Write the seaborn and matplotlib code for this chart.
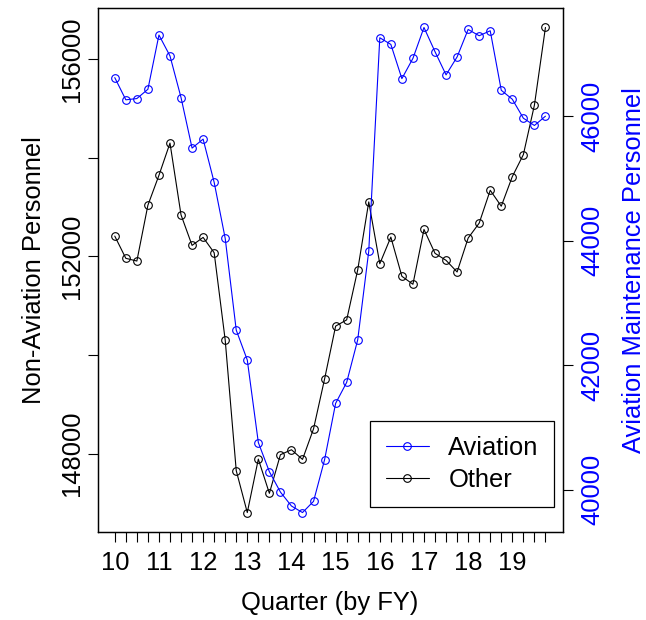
import matplotlib
matplotlib.use("Agg")
import matplotlib.pyplot as plt
import seaborn as sns
import pandas as pd
import numpy as np

# ---- data ----
fy_labels = ["10", "11", "12", "13", "14", "15", "16", "17", "18", "19"]
aviation = [46614, 46258, 46278, 46427, 47298, 46962, 46294, 45483, 45627, 44934,
            44034, 42562, 42082, 40758, 40290, 39963, 39739, 39634, 39814, 40482,
            41387, 41723, 42406, 43830, 47254, 47147, 46598, 46923, 47419, 47030,
            46658, 46946, 47387, 47286, 47366, 46411, 46267, 45963, 45846, 45995]
other = [152408, 151958, 151903, 153034, 153640, 154293, 152838, 152220, 152382, 152071,
         150301, 147655, 146806, 147889, 147196, 147978, 148079, 147883, 148503, 149513,
         150584, 150711, 151724, 153101, 151848, 152388, 151594, 151432, 152543, 152059,
         151917, 151681, 152368, 152671, 153337, 153014, 153614, 154059, 155061, 156636]
left_ticks = [148000, 150000, 152000, 154000, 156000]
left_labels = ["148000", "", "152000", "", "156000"]
right_ticks = [40000, 42000, 44000, 46000]

df = pd.DataFrame({"q": np.arange(len(other)), "Aviation": aviation, "Other": other})

sns.set_theme(style="white")
plt.rcParams["font.family"] = ["Liberation Sans", "DejaVu Sans"]
plt.rcParams.update({"text.color": "black", "axes.labelcolor": "black",
                     "xtick.color": "black", "ytick.color": "black"})
FS = 18.4

fig = plt.figure(figsize=(6.46, 6.20), dpi=100)
fig.subplots_adjust(left=0.151, right=0.871, top=0.987, bottom=0.142)
ax = fig.add_subplot(111)
ax2 = ax.twinx()

mk = dict(marker="o", markersize=5.5, markerfacecolor="none", markeredgewidth=0.8,
          linewidth=0.8)
sns.lineplot(data=df, x="q", y="Other", ax=ax, color="black", markeredgecolor="black",
             legend=False, **mk)
sns.lineplot(data=df, x="q", y="Aviation", ax=ax2, color="#0000FF", markeredgecolor="#0000FF",
             legend=False, **mk)

def rlim(v):
    lo, hi = min(v), max(v)
    d = (hi - lo) * 0.04
    return lo - d, hi + d

n = len(other)
ax.set_xlim(-0.04 * (n - 1), (n - 1) * 1.04)
ax.set_ylim(*rlim(other))
ax2.set_ylim(*rlim(aviation))

xt = list(range(n))
xl = [fy_labels[i // 4] if i % 4 == 0 else "" for i in xt]
ax.set_xticks(xt)
ax.set_xticklabels(xl, fontsize=FS, color="black")
ax.set_yticks(left_ticks)
ax.set_yticklabels(left_labels, fontsize=FS, rotation=90, va="center", color="black")
ax2.set_yticks(right_ticks)
ax2.set_yticklabels([str(t) for t in right_ticks], fontsize=FS, rotation=90, va="center",
                    color="#0000FF")

for a in (ax, ax2):
    a.tick_params(direction="out", length=7.5, width=0.8, color="black")
    for s in a.spines.values():
        s.set_color("black")
        s.set_linewidth(0.9)
ax.tick_params(axis="x", bottom=True, pad=6)
ax.tick_params(axis="y", left=True, pad=2)
ax2.tick_params(axis="y", right=True, pad=5)

ax.set_xlabel("Quarter (by FY)", fontsize=FS, labelpad=12, color="black")
ax.set_ylabel("Non-Aviation Personnel", fontsize=FS, labelpad=10, color="black")
ax2.set_ylabel("Aviation Maintenance Personnel", fontsize=FS, labelpad=13, color="#0000FF")
ax2.grid(False)
ax.grid(False)

h1 = ax2.get_lines()[0]
h2 = ax.get_lines()[0]
leg = ax2.legend([h1, h2], ["Aviation", "Other"], fontsize=FS, loc="lower right",
                 bbox_to_anchor=(554 / 646, 1 - 507 / 620), bbox_transform=fig.transFigure,
                 frameon=True, fancybox=False, shadow=False, handlelength=1.7,
                 handletextpad=0.75, labelspacing=0.3, borderpad=0.6, borderaxespad=0)
leg.get_frame().set_edgecolor("black")
leg.get_frame().set_linewidth(0.9)
leg.get_frame().set_alpha(1)
for t in leg.get_texts():
    t.set_color("black")

fig.savefig("out.png", dpi=100)
